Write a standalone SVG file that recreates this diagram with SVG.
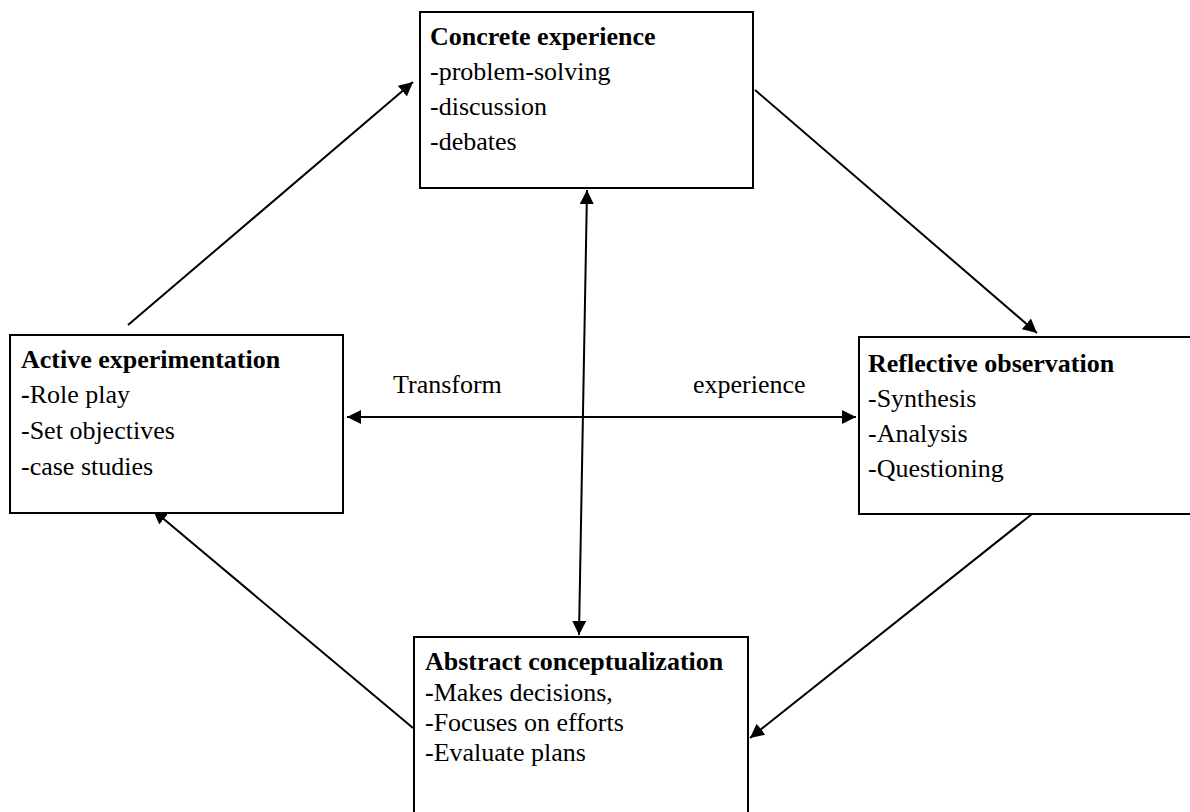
<svg xmlns="http://www.w3.org/2000/svg" width="1190" height="812" viewBox="0 0 1190 812">
<style>
.box{fill:#fff;stroke:#000;stroke-width:2}
.t{font-family:"Liberation Serif","Times New Roman",serif;font-size:26px;fill:#000}
.b{font-weight:bold}
.c{stroke:#000;stroke-width:2;fill:none}
</style>
<defs>
<marker id="ah2" viewBox="0 0 10 10" refX="10" refY="5" markerWidth="14" markerHeight="14" markerUnits="userSpaceOnUse" orient="auto-start-reverse">
<path d="M0,0 L10,5 L0,10 z" fill="#000"/>
</marker>
</defs>
<rect width="1190" height="812" fill="#fff"/>
<g id="connectors">
<line class="c" x1="128" y1="325" x2="413" y2="82" marker-end="url(#ah2)"/>
<line class="c" x1="755" y1="90" x2="1037" y2="333" marker-end="url(#ah2)"/>
<line class="c" x1="1032" y1="514" x2="750" y2="738" marker-end="url(#ah2)"/>
<line class="c" x1="413" y1="728" x2="153" y2="510" marker-end="url(#ah2)"/>
<line class="c" x1="587" y1="190" x2="579" y2="635" marker-start="url(#ah2)" marker-end="url(#ah2)"/>
<line class="c" x1="347" y1="417" x2="856" y2="417" marker-start="url(#ah2)" marker-end="url(#ah2)"/>
<text class="t" x="393" y="393">Transform</text>
<text class="t" x="693" y="393">experience</text>
</g>
<g id="concrete">
<rect class="box" x="420" y="12" width="333" height="176"/>
<text class="t b" x="430" y="45">Concrete experience</text>
<text class="t" x="430" y="80">-problem-solving</text>
<text class="t" x="430" y="115">-discussion</text>
<text class="t" x="430" y="150">-debates</text>
</g>
<g id="active">
<rect class="box" x="10" y="335" width="333" height="178"/>
<text class="t b" x="21" y="368">Active experimentation</text>
<text class="t" x="21" y="403"><tspan class="b">-</tspan>Role play</text>
<text class="t" x="21" y="439">-Set objectives</text>
<text class="t" x="21" y="475">-case studies</text>
</g>
<g id="reflective">
<rect class="box" x="859" y="337" width="345" height="177"/>
<text class="t b" x="868" y="372">Reflective observation</text>
<text class="t" x="868" y="407">-Synthesis</text>
<text class="t" x="868" y="442">-Analysis</text>
<text class="t" x="868" y="477">-Questioning</text>
</g>
<g id="abstract">
<rect class="box" x="414" y="637" width="334" height="190"/>
<text class="t b" x="425" y="670">Abstract conceptualization</text>
<text class="t" x="425" y="701"><tspan class="b">-</tspan>Makes decisions,</text>
<text class="t" x="425" y="731">-Focuses on efforts</text>
<text class="t" x="425" y="761">-Evaluate plans</text>
</g>
</svg>
